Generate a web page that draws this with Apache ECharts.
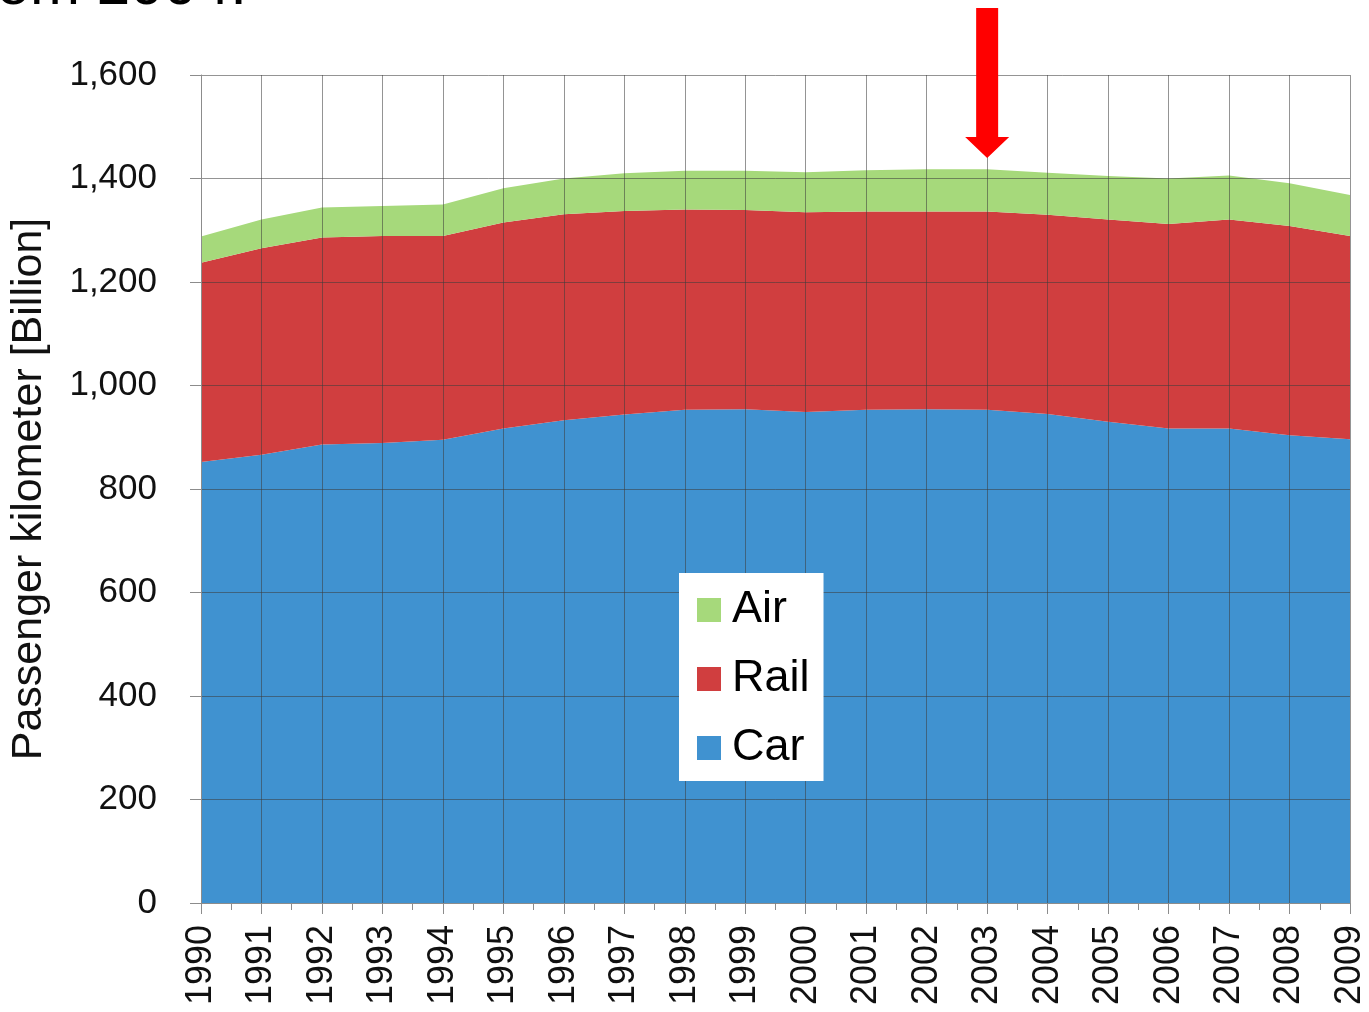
<!DOCTYPE html>
<html>
<head>
<meta charset="utf-8">
<script src="https://cdn.jsdelivr.net/npm/echarts@6.0.0/dist/echarts.min.js"></script>
<style>
html, body { margin: 0; padding: 0; background: #fff; }
#main { width: 1369px; height: 1012px; }
</style>
</head>
<body>
<div id="main"></div>
<script>
// passenger km in billion
var years = ['1990', '1991', '1992', '1993', '1994', '1995', '1996', '1997', '1998', '1999',
             '2000', '2001', '2002', '2003', '2004', '2005', '2006', '2007', '2008', '2009'];
var car  = [852, 866, 886, 889, 895, 917, 933, 944, 953, 954,
            949, 953, 954, 953, 945, 930, 917, 917, 904, 896];
var rail = [385, 399, 400, 400, 394, 398, 398, 393, 387, 385,
            386, 383, 382, 383, 385, 391, 395, 404, 404, 393];
var air  = [51, 56, 58, 58, 61, 66, 69, 73, 75, 76,
            77, 80, 82, 82, 81, 84, 88, 85, 83, 79];
var legendNames = ['Air', 'Rail', 'Car'];
var markYear = '2003';

var FONT = 'Liberation Sans, Arial, sans-serif';
var gridColor = 'rgba(60,60,60,0.55)';
var axisColor = '#8c8c8c';

// half-year slots, only used for the small ticks between the years
var halfSlots = [];
for (var k = 0; k < years.length * 2 - 1; k++) {
    halfSlots.push(String(k));
}

function areaSeries(name, arr, color) {
    return {
        name: name,
        type: 'line',
        stack: 'total',
        data: arr,
        symbol: 'none',
        lineStyle: { width: 0 },
        itemStyle: { color: color },
        areaStyle: { color: color, opacity: 1 },
        emphasis: { disabled: true }
    };
}

var chart = echarts.init(document.getElementById('main'));

var option = {
    animation: false,
    backgroundColor: '#fff',
    grid: { left: 201, right: 19, top: 75, bottom: 109 },
    legend: {
        data: legendNames,
        orient: 'vertical',
        left: 679,
        top: 573,
        z: 20,
        backgroundColor: '#fff',
        padding: [14, 14, 10, 18],
        itemGap: 23,
        itemWidth: 24,
        itemHeight: 24,
        icon: 'rect',
        textStyle: { fontSize: 45, fontFamily: FONT, color: '#000', lineHeight: 46, padding: [0, 0, 0, 6] }
    },
    xAxis: [{
        type: 'category',
        data: years,
        boundaryGap: false,
        z: 10,
        axisLine: { show: true, lineStyle: { color: axisColor, width: 1 } },
        axisTick: { show: true, length: 11, interval: 0, lineStyle: { color: axisColor } },
        axisLabel: { interval: 0, rotate: 90, fontSize: 36, margin: 22, color: '#111', fontFamily: FONT },
        splitLine: { show: true, interval: 0, lineStyle: { color: gridColor, width: 1 } }
    }, {
        type: 'category',
        data: halfSlots,
        boundaryGap: false,
        position: 'bottom',
        z: 9,
        axisLine: { show: false },
        axisTick: { show: true, length: 7, interval: 0, lineStyle: { color: axisColor } },
        axisLabel: { show: false },
        splitLine: { show: false }
    }],
    yAxis: {
        type: 'value',
        min: 0,
        max: 1600,
        interval: 200,
        z: 10,
        name: 'Passenger kilometer [Billion]',
        nameLocation: 'middle',
        nameGap: 150,
        nameTextStyle: { fontSize: 43, fontFamily: FONT, color: '#111' },
        axisLine: { show: true, lineStyle: { color: axisColor, width: 1 } },
        axisTick: { show: true, length: 11, lineStyle: { color: axisColor } },
        axisLabel: {
            fontSize: 35, margin: 44, color: '#111', fontFamily: FONT,
            formatter: function (v) { return v.toString().replace(/\B(?=(\d{3})+(?!\d))/g, ','); }
        },
        splitLine: { show: true, lineStyle: { color: gridColor, width: 1 } }
    },
    series: [
        areaSeries('Car', car, '#4092d0'),
        areaSeries('Rail', rail, '#d03e3f'),
        areaSeries('Air', air, '#a6d97b')
    ]
};

chart.setOption(option);

// red arrow pointing at 2003
var ax = chart.convertToPixel({ xAxisIndex: 0 }, markYear);
chart.setOption({
    graphic: [
        {
            type: 'text',
            left: -40,
            top: -43,
            z: 30,
            style: { text: 'from 2004:', fontSize: 60, fontFamily: FONT, fill: '#000' }
        },
        {
            type: 'polygon',
            z: 30,
            shape: {
                points: [
                    [ax - 11, 8], [ax + 11, 8], [ax + 11, 137], [ax + 22, 137],
                    [ax, 158], [ax - 22, 137], [ax - 11, 137]
                ]
            },
            style: { fill: '#ff0000' }
        }
    ]
});
</script>
</body>
</html>
